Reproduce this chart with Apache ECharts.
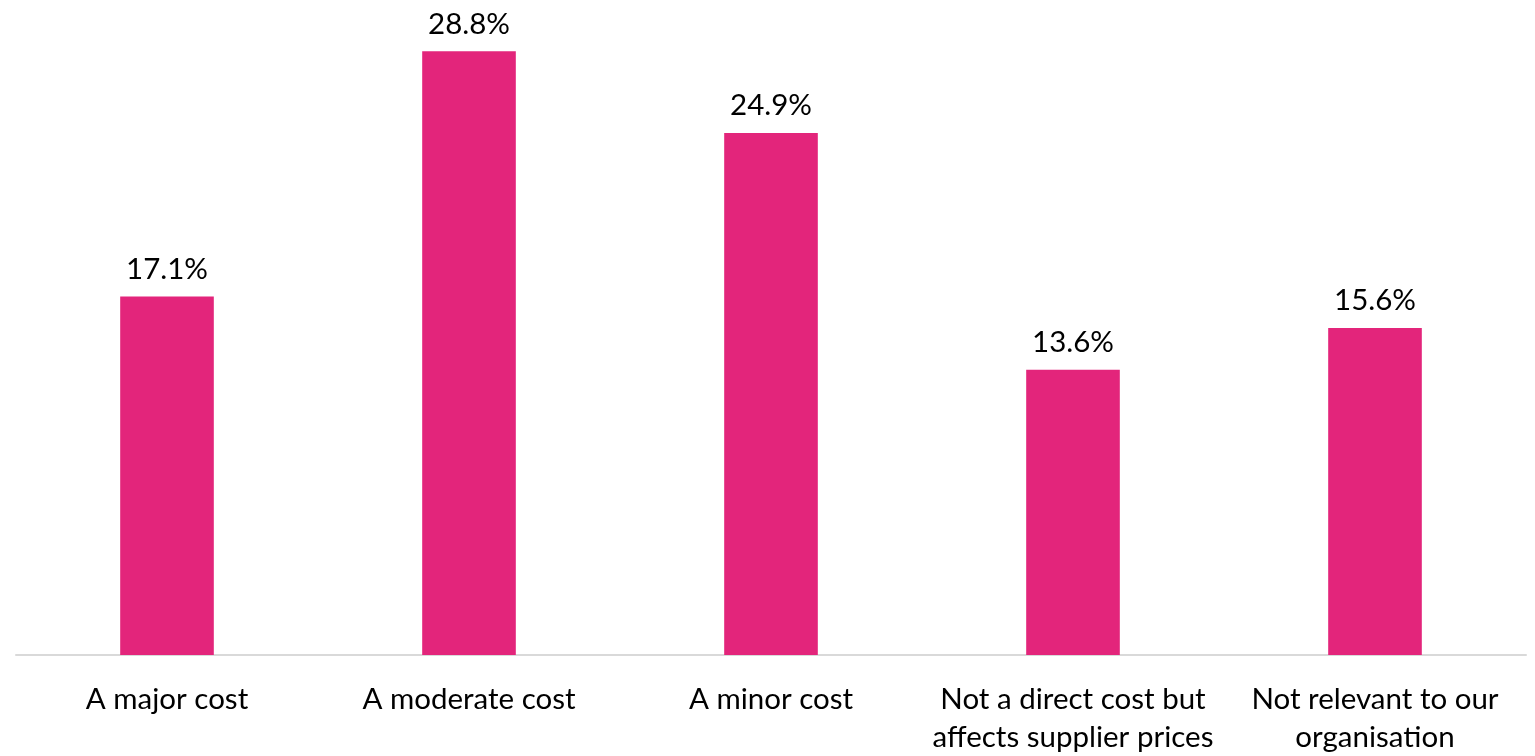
<!DOCTYPE html>
<html>
<head>
<meta charset="utf-8">
<script src="https://cdn.jsdelivr.net/npm/echarts@6/dist/echarts.min.js"></script>
<style>
  html, body { margin: 0; padding: 0; background: #fff; }
  #chart { width: 1535px; height: 756px; }
</style>
</head>
<body>
<div id="chart"></div>
<script>
const categories = [
  'A major cost',
  'A moderate cost',
  'A minor cost',
  'Not a direct cost but\naffects supplier prices',
  'Not relevant to our\norganisation'
];
const shares = [17.1, 28.8, 24.9, 13.6, 15.6];

const chart = echarts.init(document.getElementById('chart'));
chart.setOption({
  animation: false,
  grid: { left: 16, right: 9, top: 26, bottom: 98, containLabel: false },
  xAxis: {
    type: 'category',
    data: categories,
    axisLine: { lineStyle: { color: '#d9d9d9', width: 2 } },
    axisTick: { show: false },
    axisLabel: {
      interval: 0,
      margin: 25,
      color: '#000',
      fontFamily: 'Lato',
      fontSize: 29.5,
      lineHeight: 38
    }
  },
  yAxis: {
    type: 'value',
    min: 0,
    max: 30,
    show: false,
    splitLine: { show: false }
  },
  series: [{
    type: 'bar',
    data: shares,
    barWidth: '31%',
    itemStyle: { color: '#e3257b' },
    label: {
      show: true,
      position: 'top',
      distance: 12,
      color: '#000',
      fontFamily: 'Lato',
      fontSize: 29.5,
      formatter: p => p.value.toFixed(1) + '%'
    }
  }]
});
</script>
</body>
</html>
